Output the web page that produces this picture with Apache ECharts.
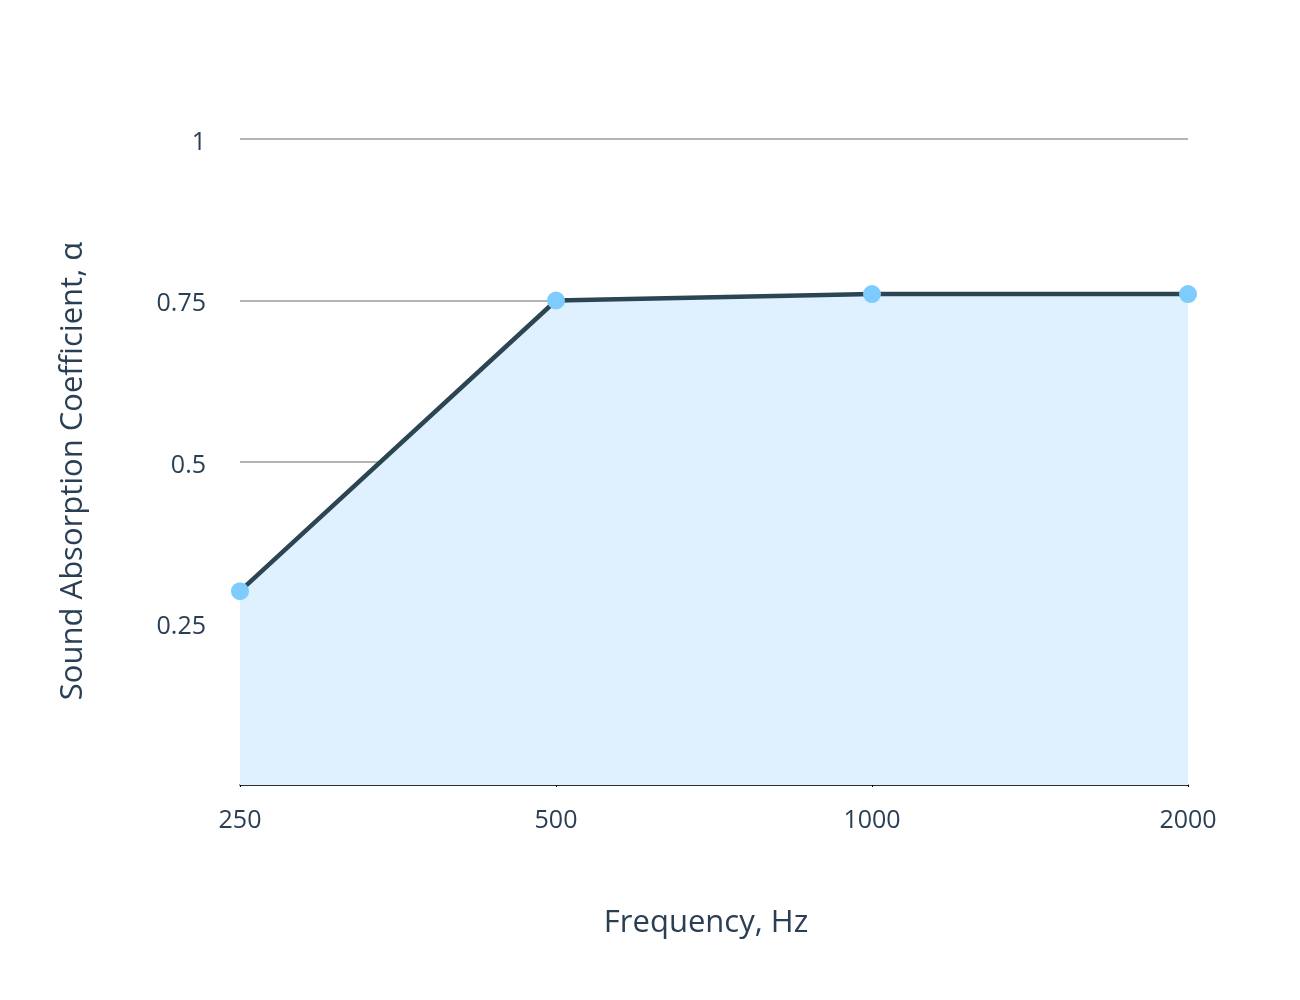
<!DOCTYPE html>
<html><head><meta charset="utf-8">
<script src="https://cdn.jsdelivr.net/npm/echarts@6/dist/echarts.min.js"></script>
<style>html,body{margin:0;padding:0;background:#fff}#c{width:1300px;height:1000px}</style>
</head><body><div id="c"></div>
<script>
const categories = ['250', '500', '1000', '2000'];
const absorption = [0.30, 0.75, 0.76, 0.76];
const yTicks = [0.25, 0.5, 0.75, 1];

const chart = echarts.init(document.getElementById('c'), null, {renderer: 'canvas'});
const font = '"Open Sans", "Noto Sans", sans-serif';
const textColor = '#2a3f54';
chart.setOption({
  animation: false,
  backgroundColor: '#ffffff',
  grid: {left: 240, right: 112, top: 139, bottom: 215, containLabel: false},
  xAxis: {
    type: 'category',
    data: categories,
    boundaryGap: false,
    name: 'Frequency, Hz',
    nameLocation: 'middle',
    nameGap: 123,
    nameTextStyle: {color: textColor, fontSize: 31, fontFamily: font, padding: [0, 16, 0, 0]},
    axisLine: {show: true, lineStyle: {color: '#000000', width: 1.5}},
    axisTick: {show: true, length: 2, alignWithLabel: true, lineStyle: {color: '#000000'}},
    axisLabel: {color: textColor, fontSize: 25, fontFamily: font, margin: 23},
    splitLine: {show: false}
  },
  yAxis: {
    type: 'value',
    min: 0,
    max: 1,
    interval: 0.25,
    name: 'Sound Absorption Coefficient, α',
    nameLocation: 'middle',
    nameGap: 151,
    nameTextStyle: {color: textColor, fontSize: 31, fontFamily: font, padding: [0, 18, 0, 0]},
    axisLine: {show: false},
    axisTick: {show: false},
    axisLabel: {
      color: textColor, fontSize: 25, fontFamily: font, margin: 34,
      formatter: function (v) { return yTicks.indexOf(v) >= 0 ? '{t|' + v + '}' : ''; },
      rich: {t: {color: textColor, fontSize: 25, fontFamily: font, padding: [7, 0, 0, 0]}}
    },
    splitLine: {show: true, lineStyle: {color: '#b4b4b4', width: 2}}
  },
  series: [{
    type: 'line',
    data: absorption,
    symbol: 'circle',
    symbolSize: 18,
    itemStyle: {color: '#7ecbfd', borderWidth: 0},
    lineStyle: {color: '#2c4553', width: 4.5},
    areaStyle: {color: '#dff0fe', opacity: 1},
    z: 2
  }]
});
</script></body></html>
